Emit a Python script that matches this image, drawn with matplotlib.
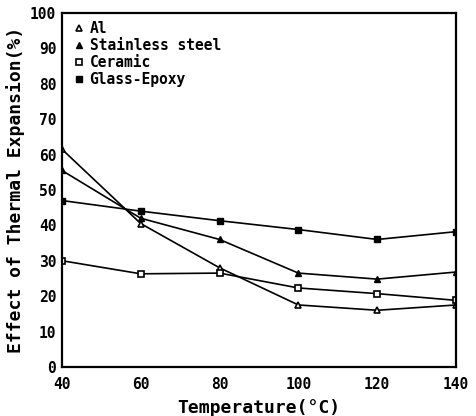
import matplotlib
matplotlib.use("Agg")
import matplotlib.pyplot as plt

temps = [40, 60, 80, 100, 120, 140]
al = [61.5, 40.5, 28.0, 17.5, 16.0, 17.5]
stainless = [55.5, 42.0, 36.0, 26.5, 24.8, 26.8]
ceramic = [30.0, 26.3, 26.5, 22.3, 20.7, 18.8]
glass_epoxy = [47.0, 44.0, 41.3, 38.8, 36.0, 38.2]

labels = ["Al", "Stainless steel", "Ceramic", "Glass-Epoxy"]
xticks = [40, 60, 80, 100, 120, 140]
yticks = list(range(0, 101, 10))

font = "DejaVu Sans Mono"
plt.rcParams["font.family"] = [font]
plt.rcParams["font.weight"] = "bold"

fig = plt.figure(figsize=(4.76, 4.16), dpi=100)
ax = fig.add_axes([0.130, 0.118, 0.828, 0.851])

ms = 5
ax.plot(temps, al, color="black", lw=1.2, marker="^", ms=ms,
        mfc="white", mec="black", mew=1.2, label=labels[0])
ax.plot(temps, stainless, color="black", lw=1.2, marker="^", ms=ms,
        mfc="black", mec="black", label=labels[1])
ax.plot(temps, ceramic, color="black", lw=1.2, marker="s", ms=ms,
        mfc="white", mec="black", mew=1.2, label=labels[2])
ax.plot(temps, glass_epoxy, color="black", lw=1.2, marker="s", ms=ms,
        mfc="black", mec="black", label=labels[3])

ax.set_xlim(40, 140)
ax.set_ylim(0, 100)
ax.set_xticks(xticks)
ax.set_yticks(yticks)
ax.tick_params(length=0, labelsize=10.5, pad=4)
ax.tick_params(axis="x", pad=7)
for lab in ax.get_xticklabels() + ax.get_yticklabels():
    lab.set_fontweight("bold")
for s in ax.spines.values():
    s.set_linewidth(1.6)

ax.set_xlabel("Temperature(\u00b0C)", fontsize=13, fontweight="bold", labelpad=5)
ax.set_ylabel("Effect of Thermal Expansion(%)", fontsize=13, fontweight="bold", labelpad=4)

leg = ax.legend(loc="upper left", frameon=False, handlelength=0.6,
                handletextpad=0.4, labelspacing=0.15, borderaxespad=0.5,
                bbox_to_anchor=(0.0, 1.015),
                prop={"family": font, "weight": "bold", "size": 10.5})
for h in leg.legend_handles:
    h.set_linestyle("none")

fig.savefig("out.png", dpi=100, facecolor="white")
